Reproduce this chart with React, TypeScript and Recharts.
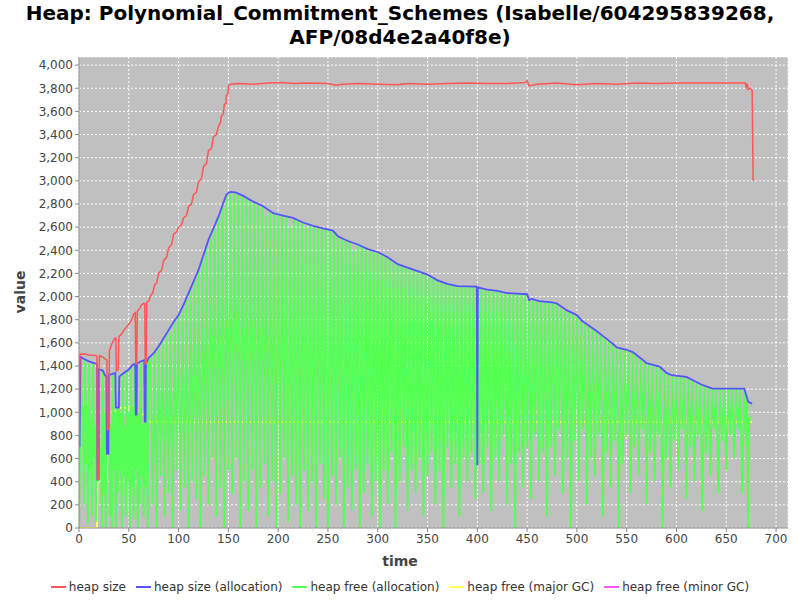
import React from 'react';
import { LineChart, Line, XAxis, YAxis, CartesianGrid } from 'recharts';

type P = [number, number];

const titleLines = ['Heap: Polynomial_Commitment_Schemes (Isabelle/604295839268,', 'AFP/08d4e2a40f8e)'];
const xTicks = [0, 50, 100, 150, 200, 250, 300, 350, 400, 450, 500, 550, 600, 650, 700];
const yTicks = [0, 200, 400, 600, 800, 1000, 1200, 1400, 1600, 1800, 2000, 2200, 2400, 2600, 2800, 3000, 3200, 3400, 3600, 3800, 4000];

const heapSize: P[] = [
  [0,700],[1,1500],[5,1505],[10,1495],[17,1490],[18,1480],[18.5,420],[20,420],[20.5,1490],[23,1480],[25,1470],[27,1455],[28,1450],[28.5,850],[30,850],[30.5,1530],[32,1570],[34,1610],[36,1640],[37,1640],[37.5,1360],[39.5,1370],[40,1650],[43,1680],[46,1720],[50,1760],[53,1800],[55,1850],[56.5,1860],[57,1420],[58,1420],[58.5,1870],[61,1900],[63,1930],[65,1940],[66,1940],[66.5,1420],[67.5,1420],[68,1950],[70,1960],[72,2010],[74,2030],[76,2100],[78,2120],[80,2200],[83,2230],[85,2310],[88,2340],[90,2420],[93,2450],[95,2540],[98,2560],[100,2600],[103,2620],[105,2680],[108,2700],[110,2780],[113,2800],[115,2880],[118,2900],[120,2990],[123,3020],[125,3120],[128,3150],[130,3260],[133,3280],[135,3380],[138,3400],[140,3470],[142,3500],[143,3560],[145,3580],[146,3660],[147.5,3670],[148,3740],[149.5,3750],[150,3820],[152,3835],[160,3840],[175,3835],[190,3845],[205,3850],[215,3840],[230,3845],[250,3840],[258,3825],[265,3835],[280,3840],[300,3835],[320,3830],[330,3840],[350,3835],[370,3840],[390,3845],[410,3840],[430,3840],[448,3850],[450,3865],[452,3820],[460,3835],[480,3845],[500,3830],[520,3840],[540,3835],[560,3845],[580,3840],[600,3845],[620,3845],[640,3845],[660,3845],[669,3845],[670,3810],[671,3840],[672,3790],[674,3800],[676,3780],[677,3000]
];

const heapSizeAlloc: P[] = [
  [0.5,700],[1.5,1480],[5,1460],[10,1440],[15,1425],[18,1420],[18.5,420],[19.5,420],[20,1370],[24,1360],[26,1320],[27.5,1310],[28,640],[29.5,640],[30,1320],[33,1330],[36.5,1340],[37,1040],[40,1040],[40.5,1310],[45,1340],[50,1370],[54,1410],[56.5,1420],[57,980],[57.8,980],[58.2,1420],[62,1440],[65.5,1450],[66,920],[66.8,920],[67.2,1420],[70,1470],[75,1510],[80,1570],[85,1640],[90,1710],[95,1780],[100,1840],[105,1930],[110,2030],[115,2130],[120,2230],[125,2360],[130,2490],[135,2590],[140,2690],[145,2810],[148,2880],[150,2895],[152,2905],[157,2900],[165,2870],[175,2820],[185,2780],[195,2720],[205,2700],[215,2680],[225,2640],[235,2610],[245,2590],[255,2570],[260,2520],[270,2480],[280,2450],[290,2410],[300,2385],[310,2340],[320,2280],[330,2250],[340,2220],[350,2190],[360,2140],[370,2110],[380,2090],[399.5,2085],[400,540],[400.5,2080],[410,2060],[420,2050],[430,2030],[450,2020],[452,1970],[455,1980],[462,1960],[475,1950],[480,1940],[490,1880],[500,1840],[505,1790],[510,1760],[520,1700],[526,1660],[535,1600],[540,1560],[550,1540],[556,1520],[565,1460],[570,1425],[583,1395],[590,1340],[595,1320],[610,1305],[618,1270],[625,1240],[636,1205],[668,1205],[670,1150],[672,1090],[676,1075]
];

const heapFreeAlloc: P[] = [
  [0,0],[1,600],[2,1480],[3,980],[4,1050],[5,200],[6,1450],[7,550],[8,1070],[9,40],[10,1420],[11,500],[12,940],[13,100],[14,1420],[15,600],[16,880],[17,50],[18,1410],[19,400],[20,1360],[21,420],[22,700],[23,0],[24,1350],[25,300],[26,1000],[27,0],[28,1300],[29,640],[30,1320],[31,100],[32,900],[33,0],[34,1330],[35,500],[36,1000],[37,0],[38,1040],[39,300],[40,1300],[41,500],[42,1000],[43,0],[44,1330],[45,450],[46,880],[47,100],[48,1360],[49,400],[50,1000],[51,0],[52,1400],[53,350],[54,1050],[55,80],[56,1420],[57,500],[58,1420],[59,0],[60,1000],[61,200],[62,1440],[63,450],[64,900],[65,100],[66,1450],[67,350],[68,1430],[69,0],[70,1460],
  [72,1480],[74,200],[76,1520],[78,0],[80,1570],[82,450],[84,1620],[86,100],[88,1690],[90,300],[92,1700],[94,0],[96,1790],[98,500],[100,1840],[102,150],[104,1900],[106,350],[108,1990],[110,0],[112,2070],[114,400],[116,2150],[118,250],[120,2230],[122,0],[124,2340],[126,450],[128,2440],[130,200],[132,2540],[134,600],[136,2600],[138,100],[140,2690],[142,350],[144,2790],[146,0],[148,2880],[150,500],
  [152,2900],[154,300],[156,2890],[158,600],[160,2880],[162,0],[164,2870],[166,400],[168,2850],[170,150],[172,2830],[174,500],[176,2810],[178,0],[180,2800],[182,350],[184,2780],[186,550],[188,2700],[190,100],[192,2730],[194,400],[196,2720],[198,0],[200,2700],[202,300],[204,2700],[206,600],[208,2690],[210,50],[212,2600],[214,450],[216,2680],[218,200],[220,2660],[222,0],[224,2640],[226,500],[228,2600],[230,150],[232,2620],[234,400],[236,2610],[238,0],[240,2600],[242,550],[244,2590],[246,250],[248,2580],[250,0],[252,2570],[254,450],[256,2560],[258,200],[260,2520],[262,600],[264,2500],[266,0],[268,2480],[270,350],[272,2470],[274,150],[276,2400],[278,500],[280,2450],[282,0],[284,2430],[286,300],[288,2410],[290,550],[292,2400],[294,100],[296,2390],[298,400],[300,2385],[302,0],
  [304,2360],[306,500],[308,2340],[310,200],[312,2320],[314,650],[316,2290],[318,0],[320,2280],[322,400],[324,2270],[326,700],[328,2250],[330,150],[332,2240],[334,500],[336,2230],[338,300],[340,2220],[342,600],[344,2200],[346,100],[348,2190],[350,450],[352,2170],[354,650],[356,2150],[358,200],[360,2140],[362,500],[364,2120],[366,0],[368,2110],[370,700],[372,2100],[374,350],[376,2090],[378,550],[380,2090],[382,100],[384,2085],[386,600],[388,2085],[390,400],[392,2085],[394,650],[396,2085],[398,250],[400,2080],[402,550],
  [404,2070],[406,300],[408,2060],[410,700],[412,2060],[414,150],[416,2050],[418,600],[420,2050],[422,400],[424,2040],[426,800],[428,2030],[430,200],[432,2030],[434,550],[436,2030],[438,0],[440,2025],[442,650],[444,2020],[446,350],[448,2020],[450,700],
  [452,1970],[454,250],[456,1975],[458,800],[460,1960],[462,400],[464,1955],[466,650],[468,1950],[470,100],[472,1950],[474,700],[476,1945],[478,450],[480,1940],[482,850],[484,1900],[486,300],[488,1880],[490,600],[492,1870],[494,0],[496,1850],[498,750],[500,1840],[502,400],[504,1800],[506,850],[508,1770],[510,200],[512,1750],[514,600],[516,1720],[518,450],[520,1700],[522,800],[524,1670],[526,100],[528,1650],[530,650],[532,1620],[534,350],[536,1600],[538,750],[540,1560],[542,0],[544,1550],[546,550],[548,1540],[550,800],
  [552,1535],[554,300],[556,1520],[558,700],[560,1490],[562,450],[564,1460],[566,850],[568,1430],[570,200],[572,1425],[574,650],[576,1410],[578,400],[580,1400],[582,800],[584,1390],[586,0],[588,1350],[590,600],[592,1330],[594,350],[596,1320],[598,750],[600,1315],[602,500],[604,1310],[606,850],[608,1305],[610,250],[612,1290],[614,700],[616,1270],[618,400],[620,1250],[622,800],[624,1240],[626,150],[628,1230],[630,650],[632,1220],[634,450],[636,1205],[638,850],[640,1205],[642,300],[644,1205],[646,750],[648,1205],[650,500],[652,1205],[654,800],[656,1205],[658,600],[660,1205],[662,850],[664,1205],[666,300],[668,1205],[670,700],[671,1150],[672,0],[673,950],[675,950]
];

const heapFreeMajor: P[] = [
  [0,0],[18,0],[18.5,420],[28,420],[28.5,640],[37,640],[37.5,1040],[57,1040],[57.5,980],[66,980],[66.5,915],[676,915]
];

const heapFreeMinor: P[] = [
  [0.3,0],[0.8,1480],[1.2,1480]
];

const legendItems = [
  { name: 'heap size', color: '#ff5555' },
  { name: 'heap size (allocation)', color: '#5555ff' },
  { name: 'heap free (allocation)', color: '#55ff55' },
  { name: 'heap free (major GC)', color: '#ffff55' },
  { name: 'heap free (minor GC)', color: '#ff55ff' },
];

const rows = (pts: P[]) => pts.map(([t, v]) => ({ t, v }));

const FONT = "'DejaVu Sans', sans-serif";

export default function App() {
  const fmt = (v: number) => v.toLocaleString('en-US');
  return (
    <div style={{ position: 'absolute', left: 0, top: 0, width: 800, height: 600, background: '#fff', fontFamily: FONT }}>
      <div style={{ position: 'absolute', left: 0, top: 1, width: 800, textAlign: 'center', fontWeight: 'bold', fontSize: 20, lineHeight: '24px', color: '#000' }}>
        {titleLines.map((l) => (<div key={l}>{l}</div>))}
      </div>
      <LineChart width={800} height={600} margin={{ top: 57, right: 12, bottom: 42, left: 0 }}>
        <CartesianGrid fill="#c0c0c0" stroke="#ffffff" strokeDasharray="2 2" strokeWidth={1} />
        <XAxis type="number" dataKey="t" domain={[0, 712]} ticks={xTicks} allowDataOverflow
          height={30} tickSize={4} tickMargin={2} stroke="#888" tick={{ fontSize: 12, fill: '#444', fontFamily: FONT }} />
        <XAxis xAxisId="top" orientation="top" type="number" dataKey="t" domain={[0, 712]} height={0} tick={false} tickLine={false} stroke="#888" />
        <YAxis type="number" domain={[0, 4070]} ticks={yTicks} allowDataOverflow width={79} tickSize={4} tickMargin={2}
          tickFormatter={fmt} stroke="#888" tick={{ fontSize: 12, fill: '#444', fontFamily: FONT }} />
        <YAxis yAxisId="right" orientation="right" type="number" domain={[0, 4070]} width={0} tick={false} tickLine={false} stroke="#888" />
        <Line data={rows(heapFreeMinor)} dataKey="v" type="linear" dot={false} stroke="#ff55ff" strokeWidth={1.5} isAnimationActive={false} />
        <Line data={rows(heapFreeMajor)} dataKey="v" type="linear" dot={false} stroke="#ffff55" strokeWidth={2} isAnimationActive={false} />
        <Line data={rows(heapFreeAlloc)} dataKey="v" type="linear" dot={false} stroke="#55ff55" strokeWidth={1.9} strokeLinejoin="bevel" isAnimationActive={false} />
        <Line data={rows(heapSizeAlloc)} dataKey="v" type="linear" dot={false} stroke="#5555ff" strokeWidth={1.8} isAnimationActive={false} />
        <Line data={rows(heapSize)} dataKey="v" type="linear" dot={false} stroke="#ff5555" strokeWidth={1.5} isAnimationActive={false} />
      </LineChart>
      <div style={{ position: 'absolute', left: 0, top: 553, width: 800, textAlign: 'center', fontWeight: 'bold', fontSize: 14, color: '#444' }}>time</div>
      <div style={{ position: 'absolute', left: 20, top: 292, transform: 'translate(-50%, -50%) rotate(-90deg)', fontWeight: 'bold', fontSize: 14, color: '#444' }}>value</div>
      <div style={{ position: 'absolute', left: 0, top: 579, width: 800, display: 'flex', justifyContent: 'center', gap: 10, fontSize: 12, color: '#333', lineHeight: '16px' }}>
        {legendItems.map((it) => (
          <div key={it.name} style={{ display: 'flex', alignItems: 'center' }}>
            <span style={{ display: 'inline-block', width: 15, height: 2, background: it.color, marginRight: 3 }} />
            <span>{it.name}</span>
          </div>
        ))}
      </div>
    </div>
  );
}
